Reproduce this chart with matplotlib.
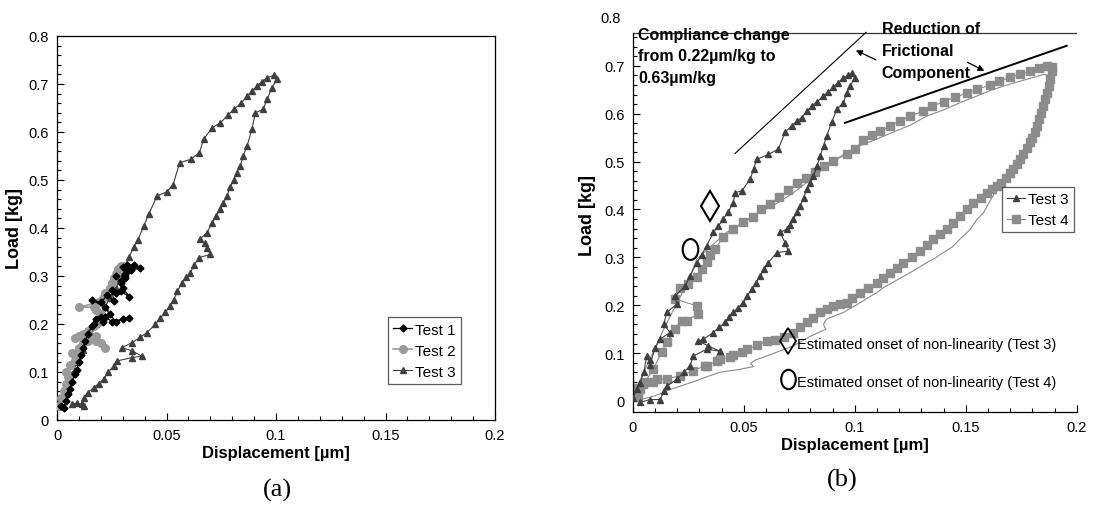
import matplotlib
matplotlib.use("Agg")
import matplotlib.pyplot as plt
import numpy as np
from matplotlib.path import Path
from matplotlib.transforms import Affine2D
from matplotlib.ticker import MultipleLocator, FixedLocator

plt.rcParams['font.family'] = ['Liberation Sans', 'DejaVu Sans']

# ---------------- data : panel (a) ----------------
t1_x = [0.002, 0.003, 0.004, 0.005, 0.006, 0.007, 0.008, 0.009, 0.010, 0.011, 0.012, 0.013,
        0.014, 0.016, 0.017, 0.018, 0.020, 0.021, 0.022, 0.025, 0.030, 0.033, 0.027, 0.024,
        0.022, 0.016, 0.020, 0.023, 0.026, 0.025, 0.027, 0.029, 0.033, 0.030, 0.029, 0.031,
        0.031, 0.032, 0.030, 0.032, 0.035, 0.038, 0.034, 0.031, 0.029, 0.027]
t1_y = [0.030, 0.025, 0.040, 0.055, 0.065, 0.080, 0.095, 0.105, 0.120, 0.135, 0.150, 0.165,
        0.180, 0.195, 0.200, 0.210, 0.215, 0.205, 0.215, 0.205, 0.210, 0.213, 0.205, 0.220,
        0.235, 0.250, 0.245, 0.260, 0.248, 0.270, 0.265, 0.268, 0.257, 0.275, 0.285, 0.295,
        0.305, 0.310, 0.318, 0.322, 0.323, 0.317, 0.312, 0.300, 0.290, 0.300]

t2_x = [0.001, 0.002, 0.003, 0.004, 0.005, 0.004, 0.006, 0.008, 0.007, 0.009, 0.010, 0.012,
        0.014, 0.016, 0.018, 0.020, 0.022, 0.018, 0.015, 0.010, 0.008, 0.012, 0.014, 0.017,
        0.019, 0.021, 0.020, 0.018, 0.017, 0.010, 0.019, 0.021, 0.022, 0.024, 0.025, 0.026,
        0.027, 0.028, 0.029, 0.030, 0.028, 0.027]
t2_y = [0.030, 0.045, 0.060, 0.075, 0.090, 0.100, 0.115, 0.125, 0.140, 0.140, 0.150, 0.160,
        0.165, 0.170, 0.165, 0.160, 0.150, 0.175, 0.170, 0.175, 0.170, 0.180, 0.185, 0.195,
        0.205, 0.210, 0.220, 0.230, 0.235, 0.235, 0.245, 0.255, 0.265, 0.275, 0.285, 0.295,
        0.305, 0.315, 0.320, 0.320, 0.310, 0.300]

t3a_x = [0.001, 0.003, 0.005, 0.007, 0.009, 0.012, 0.015, 0.018, 0.020, 0.022, 0.024, 0.027,
         0.029, 0.031, 0.033, 0.035, 0.037, 0.0396, 0.042, 0.0457, 0.050, 0.053, 0.056, 0.061,
         0.065, 0.067, 0.0708, 0.0746, 0.078, 0.0807, 0.084, 0.0868, 0.089, 0.0913, 0.0935,
         0.0959, 0.099, 0.1005,
         0.098, 0.096, 0.094, 0.0906, 0.089, 0.0868, 0.085, 0.0837, 0.082, 0.0807, 0.079,
         0.0776, 0.076, 0.0746, 0.0725, 0.0708, 0.0685, 0.0655, 0.0675, 0.0685, 0.0700, 0.0647,
         0.0625, 0.0609, 0.059, 0.057, 0.055, 0.0533, 0.0515, 0.0495, 0.047, 0.0449, 0.041,
         0.038, 0.0342, 0.0297, 0.0342, 0.0388, 0.0342, 0.0274, 0.0259, 0.0235, 0.0213, 0.019,
         0.0167, 0.014, 0.0122, 0.0114, 0.0091, 0.0068, 0.0122]
t3a_y = [0.033, 0.055, 0.078, 0.095, 0.120, 0.145, 0.170, 0.200, 0.215, 0.235, 0.255, 0.275,
         0.300, 0.320, 0.340, 0.360, 0.376, 0.404, 0.430, 0.467, 0.475, 0.490, 0.536, 0.543,
         0.557, 0.585, 0.609, 0.619, 0.635, 0.647, 0.660, 0.675, 0.685, 0.696, 0.705,
         0.713, 0.718, 0.710,
         0.692, 0.668, 0.647, 0.640, 0.606, 0.571, 0.550, 0.529, 0.515, 0.501, 0.485,
         0.467, 0.452, 0.439, 0.425, 0.411, 0.390, 0.378, 0.368, 0.358, 0.345, 0.338,
         0.322, 0.307, 0.297, 0.286, 0.268, 0.251, 0.238, 0.224, 0.212, 0.199, 0.182,
         0.172, 0.161, 0.151, 0.144, 0.133, 0.130, 0.123, 0.1125, 0.100, 0.085, 0.076,
         0.067, 0.057, 0.0465, 0.033, 0.035, 0.033, 0.029]

# ---------------- data : panel (b) ----------------
t3b_x = [0.000, 0.002, 0.0033, 0.005, 0.0063, 0.008, 0.0078, 0.0100, 0.0123, 0.0168, 0.0140,
         0.0153, 0.0198, 0.0191, 0.0236, 0.0258, 0.0288, 0.031, 0.0333, 0.0363, 0.0385, 0.0408,
         0.043, 0.0453, 0.0461, 0.0491, 0.0529, 0.0545, 0.0559, 0.0611, 0.0656, 0.0686, 0.0716,
         0.0740, 0.0761, 0.0785, 0.0806, 0.0830, 0.0859, 0.0880, 0.0904, 0.0925, 0.0949, 0.0970,
         0.0986, 0.1000,
         0.0979, 0.0964, 0.0949, 0.0919, 0.0896, 0.0874, 0.0860, 0.0844, 0.0830, 0.0814, 0.0800,
         0.0784, 0.0770, 0.0754, 0.0740, 0.0724, 0.0710, 0.0694, 0.0664, 0.0686, 0.0701, 0.0649,
         0.0611, 0.0590, 0.0574, 0.0555, 0.0536, 0.0515, 0.0498, 0.0475, 0.0453, 0.0435, 0.0416,
         0.0390, 0.0363, 0.0318, 0.0296, 0.0341, 0.0393, 0.0333, 0.0273, 0.0258, 0.0230, 0.0198,
         0.0153, 0.0140, 0.0123, 0.0078, 0.0033]
t3b_y = [0.007, 0.025, 0.038, 0.060, 0.094, 0.085, 0.075, 0.110, 0.129, 0.143, 0.160,
         0.185, 0.202, 0.219, 0.240, 0.261, 0.289, 0.305, 0.324, 0.352, 0.365, 0.380,
         0.395, 0.414, 0.435, 0.439, 0.463, 0.485, 0.505, 0.515, 0.526, 0.561, 0.575,
         0.585, 0.592, 0.605, 0.616, 0.625, 0.637, 0.645, 0.655, 0.665, 0.675, 0.680,
         0.685, 0.675,
         0.658, 0.644, 0.623, 0.609, 0.582, 0.554, 0.533, 0.512, 0.490, 0.470, 0.456,
         0.442, 0.425, 0.407, 0.395, 0.380, 0.368, 0.359, 0.352, 0.331, 0.313, 0.310,
         0.289, 0.275, 0.261, 0.247, 0.233, 0.219, 0.205, 0.195, 0.185, 0.175, 0.164,
         0.154, 0.143, 0.129, 0.125, 0.115, 0.104, 0.108, 0.094, 0.073, 0.060, 0.045,
         0.031, 0.020, 0.003, 0.003, -0.003]

t4_x = [0.0025, 0.0055, 0.0093, 0.0130, 0.0153, 0.0190, 0.0220, 0.0243, 0.0296, 0.0288,
        0.0190, 0.0213, 0.0250, 0.0288, 0.0310, 0.0333, 0.0350, 0.0370, 0.0408, 0.0453,
        0.0498, 0.0540, 0.0580, 0.0620, 0.0660, 0.0700, 0.0740, 0.0780, 0.0820, 0.0860,
        0.0904, 0.0964, 0.1000, 0.1039, 0.1080, 0.1114, 0.1160, 0.1204, 0.1250, 0.1309,
        0.1350, 0.1400, 0.1450, 0.1504, 0.1550, 0.1610, 0.1650, 0.1700, 0.1745, 0.1790,
        0.1830, 0.1865, 0.1890, 0.1887,
        0.1880, 0.1875, 0.1865, 0.1858, 0.1850, 0.1840, 0.1830, 0.1820, 0.1810, 0.1800,
        0.1790, 0.1775, 0.1760, 0.1745, 0.1730, 0.1715, 0.1700, 0.1680, 0.1660, 0.1640,
        0.1620, 0.1595, 0.1570, 0.1535, 0.1505, 0.1474, 0.1444, 0.1414, 0.1384, 0.1354,
        0.1324, 0.1294, 0.1257, 0.1219, 0.1189, 0.1159, 0.1129, 0.1099, 0.1060, 0.1024,
        0.0990, 0.0964, 0.0934, 0.0904, 0.0874, 0.0844, 0.0814, 0.0784, 0.0754, 0.0724,
        0.0680, 0.0640, 0.0604, 0.0560, 0.0514, 0.0491, 0.0453, 0.0438, 0.0393, 0.0378,
        0.0333, 0.0326, 0.0273, 0.0213, 0.0153, 0.0108, 0.0093, 0.0048, 0.0033, 0.0010]
t4_y = [0.008, 0.039, 0.067, 0.102, 0.123, 0.150, 0.168, 0.168, 0.182, 0.199,
        0.213, 0.237, 0.244, 0.258, 0.275, 0.290, 0.305, 0.317, 0.342, 0.359,
        0.373, 0.385, 0.400, 0.412, 0.426, 0.440, 0.455, 0.466, 0.478, 0.490,
        0.502, 0.515, 0.526, 0.545, 0.555, 0.563, 0.575, 0.585, 0.595, 0.606,
        0.616, 0.625, 0.634, 0.643, 0.651, 0.660, 0.668, 0.676, 0.682, 0.690,
        0.695, 0.700, 0.697, 0.689,
        0.672, 0.658, 0.644, 0.630, 0.616, 0.602, 0.588, 0.575, 0.562, 0.550,
        0.540, 0.528, 0.516, 0.505, 0.494, 0.484, 0.477, 0.466, 0.456, 0.449,
        0.442, 0.435, 0.425, 0.414, 0.400, 0.386, 0.372, 0.359, 0.348, 0.338,
        0.325, 0.313, 0.301, 0.289, 0.278, 0.268, 0.257, 0.247, 0.237, 0.226,
        0.216, 0.205, 0.202, 0.198, 0.192, 0.185, 0.174, 0.164, 0.154, 0.143,
        0.134, 0.128, 0.125, 0.116, 0.108, 0.102, 0.097, 0.091, 0.087, 0.084,
        0.073, 0.074, 0.063, 0.053, 0.046, 0.045, 0.039, 0.035, 0.025, 0.028]

thin_x = [0.0000, 0.0050, 0.0100, 0.0150, 0.0200, 0.0250, 0.0288, 0.0350, 0.0423, 0.0500,
          0.0574, 0.0650, 0.0724, 0.0800, 0.0874, 0.0940, 0.1000, 0.1099, 0.1170, 0.1250,
          0.1324, 0.1400, 0.1474, 0.1550, 0.1625, 0.1700, 0.1775, 0.1850, 0.1895, 0.1880,
          0.1865, 0.1850, 0.1835, 0.1820, 0.1800, 0.1775, 0.1750, 0.1730, 0.1700, 0.1670,
          0.1650, 0.1625, 0.1600, 0.1580, 0.1550, 0.1520, 0.1474, 0.1440, 0.1400, 0.1360,
          0.1324, 0.1290, 0.1250, 0.1210, 0.1170, 0.1130, 0.1099, 0.1060, 0.1024, 0.0990,
          0.0949, 0.0910, 0.0874, 0.0859, 0.0870, 0.0800, 0.0750, 0.0724, 0.0660, 0.0604,
          0.0550, 0.0530, 0.0545, 0.0480, 0.0393, 0.0330, 0.0273, 0.0220, 0.0168, 0.0130,
          0.0093, 0.0060, 0.0033]
thin_y = [0.010, 0.060, 0.110, 0.160, 0.205, 0.250, 0.296, 0.322, 0.352, 0.374,
          0.394, 0.413, 0.435, 0.462, 0.491, 0.512, 0.529, 0.547, 0.561, 0.576,
          0.595, 0.608, 0.623, 0.637, 0.651, 0.662, 0.672, 0.682, 0.679, 0.663,
          0.644, 0.620, 0.595, 0.572, 0.555, 0.530, 0.510, 0.492, 0.476, 0.462,
          0.450, 0.430, 0.410, 0.393, 0.379, 0.358, 0.338, 0.322, 0.310, 0.298,
          0.289, 0.279, 0.268, 0.258, 0.247, 0.237, 0.226, 0.216, 0.205, 0.196,
          0.185, 0.178, 0.171, 0.160, 0.150, 0.135, 0.122, 0.115, 0.104, 0.094,
          0.085, 0.078, 0.072, 0.066, 0.060, 0.050, 0.040, 0.032, 0.024, 0.016,
          0.010, 0.006, 0.003]

onset_t3 = (0.0348, 0.407)
onset_t4 = (0.0258, 0.317)

x_ticks = [0, 0.05, 0.1, 0.15, 0.2]
x_ticklabels = ['0', '0.05', '0.1', '0.15', '0.2']
y_ticks = [0, 0.1, 0.2, 0.3, 0.4, 0.5, 0.6, 0.7, 0.8]
y_ticklabels = ['0', '0.1', '0.2', '0.3', '0.4', '0.5', '0.6', '0.7', '0.8']

C1 = '#000000'
C2 = '#9a9a9a'
C3 = '#3f3f3f'
C4 = '#8c8c8c'

fig = plt.figure(figsize=(11.17, 5.10), dpi=100)
W, H = 1117.0, 510.0


def frac(x0, y0, x1, y1):
    return [x0 / W, 1 - y1 / H, (x1 - x0) / W, (y1 - y0) / H]


def style_axes(ax, yt, ytl):
    ax.set_xticks(x_ticks)
    ax.set_xticklabels(x_ticklabels)
    ax.set_yticks(yt)
    ax.set_yticklabels(ytl)
    ax.xaxis.set_minor_locator(MultipleLocator(0.01))
    ax.yaxis.set_minor_locator(MultipleLocator(0.02))
    ax.tick_params(which='major', direction='in', length=5, width=0.8, labelsize=10.5, pad=6)
    ax.tick_params(which='minor', direction='in', length=3, width=0.8)
    ax.tick_params(top=False, right=False, which='both')
    for s in ax.spines.values():
        s.set_linewidth(0.9)


# ---------------- panel (a) ----------------
axa = fig.add_axes(frac(57, 37, 495, 421))
axa.plot(t3a_x, t3a_y, '-', color=C3, lw=0.8, marker='^', ms=4.5, mec=C3, mfc=C3, label='Test 3', zorder=2)
axa.plot(t2_x, t2_y, '-', color=C2, lw=1.2, marker='o', ms=5.5, mec=C2, mfc=C2, label='Test 2', zorder=3)
axa.plot(t1_x, t1_y, '-', color=C1, lw=0.9, marker='D', ms=3.5, mec=C1, mfc=C1, label='Test 1', zorder=4)
axa.set_xlim(0, 0.2)
axa.set_ylim(0, 0.8)
style_axes(axa, y_ticks, y_ticklabels)
axa.set_xlabel('Displacement [µm]', fontsize=12, fontweight='bold', labelpad=2)
axa.set_ylabel('Load [kg]', fontsize=13, fontweight='bold', labelpad=4)
h, l = axa.get_legend_handles_labels()
leg = axa.legend(h[::-1], l[::-1], loc='lower left', bbox_to_anchor=(0.756, 0.094),
                 frameon=True, fancybox=False, edgecolor='#333333', fontsize=11,
                 handlelength=1.2, handletextpad=0.2, borderpad=0.35, labelspacing=0.45,
                 borderaxespad=0)
leg.get_frame().set_linewidth(0.9)
fig.text(277 / W, 1 - 490 / H, '(a)', family='Liberation Serif', fontsize=19,
         ha='center', va='center')

# ---------------- panel (b) ----------------
axb = fig.add_axes(frac(632.7, 19, 1076.7, 413))
axb.plot(thin_x, thin_y, '-', color='#8a8a8a', lw=0.8, zorder=1)
axb.plot(t3b_x, t3b_y, '-', color=C3, lw=0.8, marker='^', ms=4.5, mec=C3, mfc=C3, label='Test 3', zorder=3)
axb.plot(t4_x, t4_y, '-', color=C4, lw=0.8, marker='s', ms=5.5, mec=C4, mfc=C4, label='Test 4', zorder=2)
axb.set_xlim(0, 0.2)
axb.set_ylim(-0.023, 0.8)
style_axes(axb, y_ticks[:-1], y_ticklabels[:-1])
top_y = 0.768
axb.yaxis.set_minor_locator(FixedLocator(np.arange(0.0, top_y, 0.02)))
axb.spines['top'].set_visible(False)
axb.spines['right'].set_visible(False)
axb.spines['left'].set_bounds(-0.023, top_y)
axb.axhline(top_y, color='#333333', lw=0.9, zorder=1)
# the 0.8 label sits above the plot frame, without a tick
axb.text(-0.0055, 0.8, y_ticklabels[-1], fontsize=10.5, ha='right', va='center')
axb.set_xlabel('Displacement [µm]', fontsize=12, fontweight='bold', labelpad=2)
axb.set_ylabel('Load [kg]', fontsize=13, fontweight='bold', labelpad=6)
leg2 = axb.legend(loc='lower left', bbox_to_anchor=(0.831, 0.456),
                  frameon=True, fancybox=False, edgecolor='#333333', fontsize=11,
                  handlelength=1.2, handletextpad=0.2, borderpad=0.35, labelspacing=0.45,
                  borderaxespad=0)
leg2.get_frame().set_linewidth(0.9)

# guide lines
axb.plot([0.0461, 0.1051], [0.517, 0.770], color='k', lw=0.8, clip_on=False)
axb.plot([0.0956, 0.1955], [0.581, 0.742], color='k', lw=1.4, clip_on=False)
axb.annotate('', xy=(0.0994, 0.735), xytext=(0.1107, 0.710),
             arrowprops=dict(arrowstyle='-|>', color='k', lw=0.9, mutation_scale=9),
             annotation_clip=False)
axb.annotate('', xy=(0.1595, 0.687), xytext=(0.1497, 0.710),
             arrowprops=dict(arrowstyle='-|>', color='k', lw=0.9, mutation_scale=9),
             annotation_clip=False)
axb.text(0.0026, 0.782, 'Compliance change\nfrom 0.22µm/kg to\n0.63µm/kg', fontsize=11.5,
         fontweight='bold', ha='left', va='top', linespacing=1.55)
axb.text(0.1122, 0.793, 'Reduction of\nFrictional\nComponent', fontsize=11.5,
         fontweight='bold', ha='left', va='top', linespacing=1.55)

# onset markers
ellipse = Path.unit_circle().transformed(Affine2D().scale(0.75, 1.0))
axb.plot([onset_t3[0]], [onset_t3[1]], marker='d', ms=15, mfc='none', mec='k', mew=1.5,
         linestyle='none')
axb.plot([onset_t4[0]], [onset_t4[1]], marker=ellipse, ms=15, mfc='none', mec='k', mew=1.5,
         linestyle='none')
axb.plot([0.0701], [0.125], marker='d', ms=13, mfc='none', mec='k', mew=1.3, linestyle='none')
axb.plot([0.0701], [0.045], marker=ellipse, ms=14, mfc='none', mec='k', mew=1.5, linestyle='none')
axb.text(0.0742, 0.118, 'Estimated onset of non-linearity (Test 3)', fontsize=10.5,
         ha='left', va='center')
axb.text(0.0742, 0.040, 'Estimated onset of non-linearity (Test 4)', fontsize=10.5,
         ha='left', va='center')

fig.text(842 / W, 1 - 480 / H, '(b)', family='Liberation Serif', fontsize=19,
         ha='center', va='center')

fig.savefig('out.png', dpi=100)
